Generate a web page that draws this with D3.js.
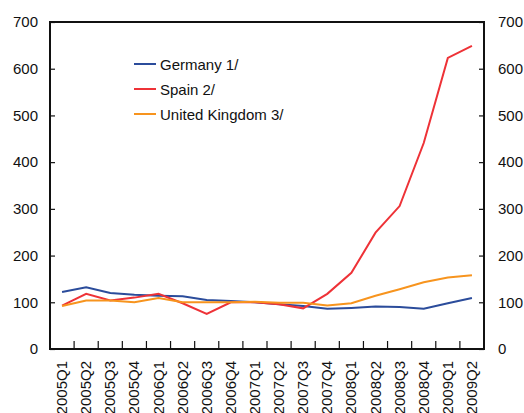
<!DOCTYPE html>
<html><head><meta charset="utf-8">
<script src="https://cdn.jsdelivr.net/npm/d3@7"></script>
<style>body{margin:0;background:#fff}svg{display:block}text{font-family:"Liberation Sans",Arial,sans-serif}</style>
</head><body>
<script>
const categories = ["2005Q1","2005Q2","2005Q3","2005Q4","2006Q1","2006Q2","2006Q3","2006Q4","2007Q1","2007Q2","2007Q3","2007Q4","2008Q1","2008Q2","2008Q3","2008Q4","2009Q1","2009Q2"];
const germany = [122,132,120,116,114,113,105,103,100,96,92,86,88,91,90,86,98,109];
const spain   = [93,118,104,110,118,98,75,100,100,96,87,118,163,249,306,441,623,649];
const uk      = [92,104,104,100,109,100,100,100,101,99,99,93,98,114,128,143,153,158];
const seriesNames = ["Germany 1/","Spain 2/","United Kingdom 3/"];
const yTicks = [0,100,200,300,400,500,600,700];
const colors = ["#2b4c9b","#ee3237","#f7941e"];

const W=524,H=413, m={l:50,r:40,t:22,b:64};
const FS=15;
const svg=d3.select("body").append("svg").attr("width",W).attr("height",H);
const x=d3.scaleBand().domain(categories).range([m.l,W-m.r]);
const y=d3.scaleLinear().domain([0,700]).range([H-m.b,m.t]);
const series=[germany,spain,uk];

const line=d3.line().x((d,i)=>x(categories[i])+x.bandwidth()/2).y(d=>y(d));
series.forEach((s,k)=>{
  svg.append("path").datum(s).attr("d",line).attr("fill","none").attr("stroke",colors[k]).attr("stroke-width",2);
});

const gl=svg.append("g").attr("transform",`translate(${m.l},0)`).call(d3.axisLeft(y).tickValues(yTicks).tickSize(-5).tickPadding(12));
const gr=svg.append("g").attr("transform",`translate(${W-m.r},0)`).call(d3.axisRight(y).tickValues(yTicks).tickSize(-5).tickPadding(14));
[gl,gr].forEach(g=>{g.select(".domain").remove();g.selectAll("text").attr("font-size",FS).attr("fill","#111").style("font-family",'"Liberation Sans",Arial,sans-serif');g.selectAll("line").attr("stroke","#111").attr("stroke-width",1.2);});

const gb=svg.append("g").attr("transform",`translate(0,${H-m.b})`);
categories.slice(1).forEach(c=>{
  gb.append("line").attr("x1",x(c)).attr("x2",x(c)).attr("y1",0).attr("y2",-8).attr("stroke","#111").attr("stroke-width",1.2);
});
categories.forEach(c=>{
  gb.append("text").attr("transform",`translate(${x(c)+x.bandwidth()/2+5},12) rotate(-90)`).attr("text-anchor","end").attr("font-size",FS).attr("fill","#111").text(c);
});

svg.append("rect").attr("x",m.l).attr("y",m.t).attr("width",W-m.l-m.r).attr("height",H-m.t-m.b).attr("fill","none").attr("stroke","#111").attr("stroke-width",2);

seriesNames.forEach((n,k)=>{
  const yy=64+k*25;
  svg.append("line").attr("x1",134).attr("x2",156).attr("y1",yy).attr("y2",yy).attr("stroke",colors[k]).attr("stroke-width",2);
  svg.append("text").attr("x",160).attr("y",yy+5.5).attr("font-size",FS).attr("fill","#111").text(n);
});
</script>
</body></html>
